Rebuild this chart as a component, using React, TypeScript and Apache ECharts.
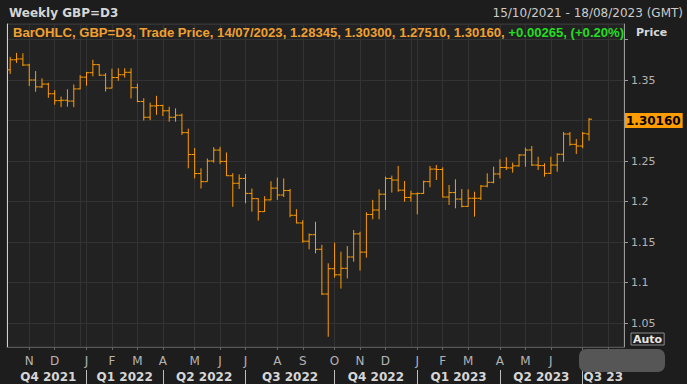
import React, { useEffect, useRef } from 'react';
import * as echarts from 'echarts';

// Weekly bar dates (Friday), view extends to 18/08/2023
const dates = [
  '2021-10-15','2021-10-22','2021-10-29','2021-11-05','2021-11-12','2021-11-19','2021-11-26','2021-12-03','2021-12-10','2021-12-17','2021-12-24','2021-12-31',
  '2022-01-07','2022-01-14','2022-01-21','2022-01-28','2022-02-04','2022-02-11','2022-02-18','2022-02-25','2022-03-04','2022-03-11','2022-03-18','2022-03-25',
  '2022-04-01','2022-04-08','2022-04-15','2022-04-22','2022-04-29','2022-05-06','2022-05-13','2022-05-20','2022-05-27','2022-06-03','2022-06-10','2022-06-17','2022-06-24',
  '2022-07-01','2022-07-08','2022-07-15','2022-07-22','2022-07-29','2022-08-05','2022-08-12','2022-08-19','2022-08-26','2022-09-02','2022-09-09','2022-09-16','2022-09-23','2022-09-30',
  '2022-10-07','2022-10-14','2022-10-21','2022-10-28','2022-11-04','2022-11-11','2022-11-18','2022-11-25','2022-12-02','2022-12-09','2022-12-16','2022-12-23','2022-12-30',
  '2023-01-06','2023-01-13','2023-01-20','2023-01-27','2023-02-03','2023-02-10','2023-02-17','2023-02-24','2023-03-03','2023-03-10','2023-03-17','2023-03-24','2023-03-31',
  '2023-04-07','2023-04-14','2023-04-21','2023-04-28','2023-05-05','2023-05-12','2023-05-19','2023-05-26','2023-06-02','2023-06-09','2023-06-16','2023-06-23','2023-06-30',
  '2023-07-07','2023-07-14','2023-07-21','2023-07-28','2023-08-04','2023-08-11','2023-08-18'
];

const openP = [
  1.3625,1.3750,1.3760,1.3685,1.3500,1.3415,1.3450,1.3330,1.3245,1.3250,1.3240,1.3390,
  1.3535,1.3590,1.3690,1.3560,1.3400,1.3530,1.3565,1.3595,1.3405,1.3235,1.3040,1.3180,
  1.3185,1.3120,1.3040,1.3065,1.2850,1.2580,1.2345,1.2245,1.2500,1.2635,1.2495,1.2318,1.2225,
  1.2285,1.2100,1.2035,1.1875,1.2020,1.2165,1.2080,1.2135,1.1830,1.1735,1.1510,1.1590,1.1410,1.0858,
  1.1170,1.1095,1.1175,1.1315,1.1600,1.1375,1.1840,1.1895,1.2090,1.2285,1.2265,1.2140,1.2050,
  1.2095,1.2100,1.2245,1.2400,1.2395,1.2055,1.2110,1.2030,1.1940,1.2040,1.2040,1.2190,1.2237,
  1.2340,1.2420,1.2415,1.2440,1.2574,1.2636,1.2450,1.2443,1.2348,1.2450,1.2583,1.2833,1.2706,
  1.2685,1.28345
];
const highP = [
  1.3785,1.3835,1.3830,1.3700,1.3610,1.3520,1.3465,1.3375,1.3295,1.3385,1.3445,1.3560,
  1.3600,1.3750,1.3695,1.3585,1.3640,1.3645,1.3645,1.3645,1.3455,1.3275,1.3220,1.3305,
  1.3195,1.3170,1.3150,1.3085,1.2900,1.2660,1.2410,1.2530,1.2670,1.2675,1.2605,1.2350,1.2335,
  1.2340,1.2160,1.2040,1.2065,1.2250,1.2295,1.2285,1.2155,1.1905,1.1770,1.1605,1.1750,1.1465,1.1237,
  1.1492,1.1380,1.1450,1.1648,1.1627,1.1867,1.2020,1.2150,1.2307,1.2320,1.2440,1.2253,1.2133,
  1.2110,1.2257,1.2438,1.2451,1.2422,1.2204,1.2274,1.2154,1.2150,1.2121,1.2204,1.2348,1.2430,
  1.2521,1.2546,1.2480,1.2586,1.2665,1.2685,1.2553,1.2472,1.2553,1.2595,1.2858,1.2858,1.2772,
  1.2858,1.30300
];
const lowP = [
  1.3575,1.3710,1.3672,1.3425,1.3355,1.3400,1.3280,1.3195,1.3165,1.3170,1.3165,1.3385,
  1.3430,1.3545,1.3550,1.3358,1.3398,1.3490,1.3530,1.3272,1.3225,1.3000,1.3005,1.3070,
  1.3055,1.2985,1.2985,1.2822,1.2410,1.2285,1.2160,1.2245,1.2480,1.2463,1.2315,1.1935,1.2155,
  1.1978,1.1875,1.1765,1.1870,1.2015,1.2020,1.2055,1.1805,1.1730,1.1490,1.1410,1.1360,1.0845,1.0330,
  1.1060,1.0925,1.1050,1.1257,1.1147,1.1307,1.1780,1.1780,1.1895,1.2110,1.2120,1.1998,1.1998,
  1.1842,1.2093,1.2175,1.2265,1.2052,1.1957,1.1916,1.1928,1.1936,1.1813,1.2019,1.2175,1.2225,
  1.2286,1.2389,1.2356,1.2430,1.2430,1.2438,1.2389,1.2307,1.2340,1.2368,1.2492,1.2689,1.2586,
  1.2657,1.27510
];
const closeP = [
  1.3750,1.3760,1.3685,1.3500,1.3415,1.3450,1.3330,1.3245,1.3250,1.3240,1.3390,1.3535,
  1.3590,1.3690,1.3560,1.3400,1.3530,1.3565,1.3595,1.3405,1.3235,1.3040,1.3180,1.3185,
  1.3120,1.3040,1.3065,1.2850,1.2580,1.2345,1.2245,1.2500,1.2635,1.2495,1.2318,1.2225,1.2285,
  1.2100,1.2035,1.1875,1.2020,1.2165,1.2080,1.2135,1.1830,1.1735,1.1510,1.1590,1.1410,1.0858,1.1170,
  1.1095,1.1175,1.1315,1.1600,1.1375,1.1840,1.1895,1.2090,1.2285,1.2265,1.2140,1.2050,1.2095,
  1.2100,1.2245,1.2400,1.2395,1.2055,1.2110,1.2030,1.1940,1.2040,1.2040,1.2190,1.2237,1.2340,
  1.2420,1.2415,1.2440,1.2574,1.2636,1.2450,1.2443,1.2348,1.2450,1.2583,1.2833,1.2706,1.2685,
  1.2842,1.30160
];

const monthLetters = ['J','F','M','A','M','J','J','A','S','O','N','D'];
const quarterNames = ['Q4 2021','Q1 2022','Q2 2022','Q3 2022','Q4 2022','Q1 2023','Q2 2023','Q3 23'];
const lastChange = 0.00265;
const lastChangePct = 0.20;
const instrument = 'GBP=D3';
const rangeText = '15/10/2021 - 18/08/2023 (GMT)';

const Y_MIN = 1.02037;
const Y_MAX = 1.41914;

const GRID = { left: 7, right: 63, top: 24, bottom: 37 };
const W = 687, H = 384;
const BAR_COLOR = '#ff9c00';

function monthOf(i: number) { return parseInt(dates[i].slice(5, 7), 10) - 1; }
function yearOf(i: number) { return parseInt(dates[i].slice(0, 4), 10); }
function firstOfMonth(i: number) { return i > 0 && monthOf(i) !== monthOf(i - 1); }
function quarterStart(i: number) { return firstOfMonth(i) && monthOf(i) % 3 === 0; }
function yearEnd(i: number) { return i < dates.length - 1 && yearOf(i + 1) !== yearOf(i); }
function fmtDate(d: string) { return d.slice(8, 10) + '/' + d.slice(5, 7) + '/' + d.slice(0, 4); }

function buildOption() {
  const N = dates.length;
  const band = (W - GRID.left - GRID.right) / N;
  const qStarts: number[] = [0];
  for (let i = 0; i < N; i++) if (quarterStart(i)) qStarts.push(i);
  const qMap: Record<number, number> = {};
  const rich: Record<string, any> = {};
  qStarts.forEach((s, k) => {
    qMap[s] = k;
    const next = k + 1 < qStarts.length ? qStarts[k + 1] : N - 0.5;
    rich['q' + k] = {
      width: (next - s) * band,
      align: 'center',
      fontFamily: 'DejaVu Sans',
      fontWeight: 'bold',
      fontSize: 12,
      color: '#d6d6d6'
    };
  });

  const data = openP.map((o, i) => [i, o, highP[i], lowP[i], closeP[i]]);
  const last = closeP.length - 1;
  const lastClose = closeP[last];
  const legendMain = `BarOHLC, ${instrument}, Trade Price, ${fmtDate(dates[last])}, ${openP[last].toFixed(5)}, ${highP[last].toFixed(5)}, ${lowP[last].toFixed(5)}, ${lastClose.toFixed(5)}, `;
  const legendChg = `+${lastChange.toFixed(5)}, (+${lastChangePct.toFixed(2)}%)`;

  return {
    animation: false,
    backgroundColor: '#1d1d1d',
    title: [
      { text: 'Weekly ' + instrument, left: 9, top: 7, padding: 0,
        textStyle: { color: '#d6d6d6', fontFamily: 'DejaVu Sans', fontSize: 12, fontWeight: 'bold' } },
      { text: rangeText, right: 4, top: 7, padding: 0,
        textStyle: { color: '#cccccc', fontFamily: 'DejaVu Sans', fontSize: 12, fontWeight: 'normal' } },
      { text: `{o|${legendMain}}{g|${legendChg}}`, left: 13, top: 26, padding: 0,
        textStyle: { rich: {
          o: { color: '#f0a030', fontFamily: 'Liberation Sans', fontSize: 13.1 },
          g: { color: '#22dd22', fontFamily: 'Liberation Sans', fontSize: 13.1 }
        } } },
      { text: 'Price', left: 636, top: 27, padding: 0,
        textStyle: { color: '#d8d8d8', fontFamily: 'DejaVu Sans', fontSize: 11, fontWeight: 'bold' } }
    ],
    grid: {
      left: GRID.left, right: GRID.right, top: GRID.top, bottom: GRID.bottom,
      show: true, backgroundColor: '#222222', borderColor: '#3a3a3a', borderWidth: 1,
      outerBoundsMode: 'none'
    },
    xAxis: [
      {
        type: 'category', data: dates, boundaryGap: true, position: 'bottom',
        axisLine: { show: true, onZero: false, lineStyle: { color: '#575757' } },
        axisTick: { show: true, interval: (i: number) => firstOfMonth(i), alignWithLabel: true, length: 3, lineStyle: { color: '#666' } },
        axisLabel: {
          interval: (i: number) => firstOfMonth(i),
          formatter: (v: string) => monthLetters[parseInt(v.slice(5, 7), 10) - 1],
          color: '#b4b4b4', fontFamily: 'DejaVu Sans', fontSize: 12, margin: 8
        },
        splitLine: { show: true, interval: (i: number) => firstOfMonth(i) || yearEnd(i), alignWithLabel: true, lineStyle: { color: '#333333', width: 1 } }
      },
      {
        type: 'category', data: dates, boundaryGap: true, position: 'bottom', offset: 23,
        axisLine: { show: false },
        axisTick: { show: true, interval: (i: number) => quarterStart(i), alignWithLabel: true, length: 14, lineStyle: { color: '#bdbdbd' } },
        axisLabel: {
          interval: (i: number) => qMap[i] !== undefined,
          formatter: (_v: string, i: number) => `{q${qMap[i]}|${quarterNames[qMap[i]]}}`,
          align: 'left', margin: 1, rich
        },
        splitLine: { show: false }
      }
    ],
    yAxis: [
      {
        type: 'value', position: 'right', min: Y_MIN, max: Y_MAX, splitNumber: 8, scale: true,
        axisLine: { show: true, lineStyle: { color: '#9a9a9a' } },
        axisTick: { show: true, length: 4, lineStyle: { color: '#9a9a9a' } },
        axisLabel: {
          showMinLabel: false, showMaxLabel: false, margin: 7,
          color: '#b4b4b4', fontFamily: 'DejaVu Sans', fontSize: 11,
          formatter: (v: number) =>
            (v > 1.38 || v < 1.03 || Math.abs(v - lastClose) < 0.012) ? '' : String(Number(v.toFixed(2)))
        },
        splitLine: { show: true, lineStyle: { color: '#333333' } }
      },
      {
        type: 'value', position: 'left', min: Y_MIN, max: Y_MAX,
        axisLine: { show: true, lineStyle: { color: '#cfcfcf' } },
        axisTick: { show: false }, axisLabel: { show: false }, splitLine: { show: false }
      }
    ],
    series: [
      {
        type: 'custom', name: instrument, xAxisIndex: 0, yAxisIndex: 0,
        data,
        encode: { x: 0, y: [1, 2, 3, 4] },
        renderItem: (_params: any, api: any) => {
          const idx = api.value(0);
          const pO = api.coord([idx, api.value(1)]);
          const pH = api.coord([idx, api.value(2)]);
          const pL = api.coord([idx, api.value(3)]);
          const pC = api.coord([idx, api.value(4)]);
          const x = pO[0];
          const tk = 3;
          return {
            type: 'group',
            children: [
              { type: 'line', shape: { x1: x, y1: pH[1], x2: x, y2: pL[1] }, style: { stroke: BAR_COLOR, lineWidth: 1 } },
              { type: 'line', shape: { x1: x - tk, y1: pO[1], x2: x, y2: pO[1] }, style: { stroke: BAR_COLOR, lineWidth: 1 } },
              { type: 'line', shape: { x1: x, y1: pC[1], x2: x + tk, y2: pC[1] }, style: { stroke: BAR_COLOR, lineWidth: 1 } }
            ]
          };
        },
        markLine: {
          silent: true, symbol: ['none', 'none'], z: 20,
          lineStyle: { color: 'rgba(0,0,0,0)', width: 0, type: 'solid' },
          label: {
            show: true, position: 'end', distance: 1,
            formatter: lastClose.toFixed(5),
            color: '#000000', backgroundColor: '#ff9c00', opacity: 1,
            fontFamily: 'DejaVu Sans', fontWeight: 'bold', fontSize: 12,
            lineHeight: 14, padding: [1, 2, 0, 1]
          },
          data: [{ yAxis: lastClose }]
        }
      }
    ],
    graphic: [
      { type: 'text', x: 631, y: 333, z: 100,
        style: { text: 'Auto', fill: '#e6e6e6', font: 'bold 11px "DejaVu Sans"', borderColor: '#8a8a8a', borderWidth: 1, padding: [1, 2, 0, 2] } },
      { type: 'rect', z: 101, shape: { x: 579, y: 349, width: 86, height: 23, r: 7 }, style: { fill: '#565656' } }
    ]
  };
}

export default function App() {
  const ref = useRef<HTMLDivElement>(null);
  useEffect(() => {
    if (!ref.current) return;
    const chart = echarts.init(ref.current, null, { renderer: 'svg' });
    chart.setOption(buildOption() as any);
    return () => chart.dispose();
  }, []);
  return (
    <div
      ref={ref}
      style={{ position: 'fixed', left: 0, top: 0, width: W, height: H, background: '#1d1d1d' }}
    />
  );
}
